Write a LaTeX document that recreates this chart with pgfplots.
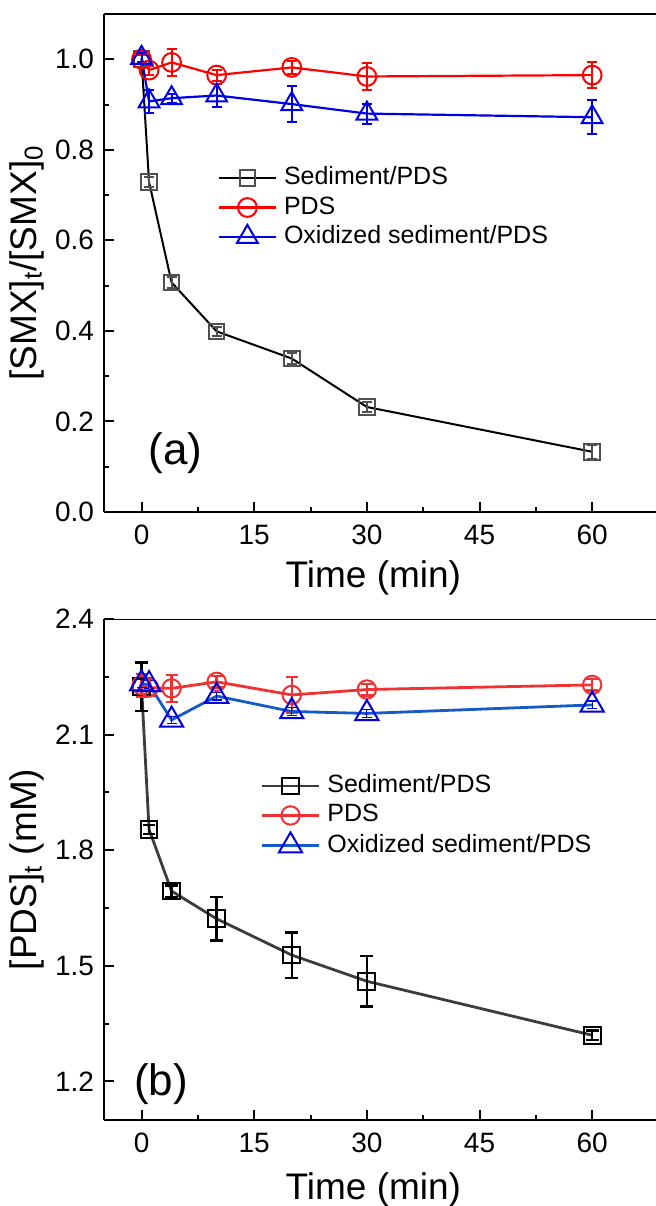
\documentclass[border=0pt]{standalone}
\usepackage{pgfplots}
\pgfplotsset{compat=1.18}
\usepackage{fontspec}
\setmainfont{Liberation Sans}

\definecolor{ared}{RGB}{255,0,0}
\definecolor{ablue}{RGB}{0,0,230}
\definecolor{agray}{RGB}{80,80,80}
\definecolor{bred}{RGB}{240,50,50}
\definecolor{bblue}{RGB}{20,90,200}
\definecolor{bmark}{RGB}{0,0,220}
\definecolor{bline}{RGB}{60,60,60}

\pgfplotstableread{
t v e
0 1.000 0.010
1 0.729 0.012
4 0.507 0.012
10 0.399 0.010
20 0.339 0.012
30 0.232 0.012
60 0.133 0.015
}\aSed
\pgfplotstableread{
t v e
0 1.000 0.010
1 0.976 0.010
4 0.993 0.030
10 0.965 0.012
20 0.982 0.015
30 0.962 0.030
60 0.965 0.028
}\aPDS
\pgfplotstableread{
t v e
0 1.003 0.010
1 0.907 0.025
4 0.914 0.010
10 0.920 0.026
20 0.901 0.040
30 0.880 0.022
60 0.872 0.038
}\aOx
\pgfplotstableread{
t v e
0 2.224 0.063
1 1.854 0.012
4 1.694 0.015
10 1.622 0.056
20 1.528 0.059
30 1.460 0.065
60 1.320 0.012
}\bSed
\pgfplotstableread{
t v e
0 2.228 0.030
1 2.222 0.020
4 2.220 0.035
10 2.237 0.015
20 2.203 0.047
30 2.217 0.015
60 2.229 0.015
}\bPDS
\pgfplotstableread{
t v e
0 2.232 0.010
1 2.230 0.010
4 2.138 0.010
10 2.200 0.010
20 2.160 0.010
30 2.155 0.010
60 2.177 0.010
}\bOx

\pgfplotsset{
  myaxis/.style={
    scale only axis, width=276pt,
    xmin=-5, xmax=68.5,
    axis lines=left, axis line style={-, line width=1pt},
    xtick={0,15,30,45,60}, minor xtick={7.5,22.5,37.5,52.5},
    tick align=inside,
    major tick length=5pt, minor tick length=2.5pt,
    every tick/.style={line width=1pt, black},
    /pgf/number format/assume math mode=true,
    tick label style={font=\fontsize{14}{16}\selectfont},
    xticklabel style={yshift=-3pt},
    yticklabel style={xshift=-1.5pt, /pgf/number format/.cd, fixed, fixed zerofill, precision=1},
    label style={font=\fontsize{18.5}{21}\selectfont},
    xlabel={Time (min)},
    legend cell align=left,
    legend style={draw=none, fill=none, font=\fontsize{12.5}{15}\selectfont,
      inner sep=0pt, row sep=2.2pt,
      nodes={inner sep=0pt, text height=9.5pt, text depth=3pt},
      /tikz/every odd column/.append style={column sep=3.5pt}},
    legend image code/.code={\draw[mark repeat=2,mark phase=2,##1] plot coordinates {(0pt,0pt) (14.25pt,0pt) (28.5pt,0pt)};},
  },
}

\begin{document}
\begin{tikzpicture}
\useasboundingbox (0,0) rectangle (328pt,603pt);
% panel (a)
\begin{axis}[myaxis, at={(52pt,347pt)}, anchor=south west, height=249pt,
  ymin=0, ymax=1.1, ytick={0,0.2,...,1.0}, minor ytick={0.1,0.3,...,0.9},
  ylabel={[SMX]\textsubscript{t}/[SMX]\textsubscript{0}},
  ylabel style={at={(axis description cs:-0.1395,0.5)}, anchor=center},
  xlabel style={at={(axis description cs:0.488,-0.1325)}, anchor=center},
  legend style={at={(axis cs:10.1,0.766)}, anchor=north west},
]
\addplot[black, line width=1pt, mark=square, mark size=3.9pt,
  mark options={draw=agray, fill=white, line width=1pt, solid},
  error bars/.cd, y dir=both, y explicit,
  error bar style={agray, line width=1pt},
  error mark options={rotate=90, mark size=2.5pt, agray, line width=1pt}]
  table[x=t, y=v, y error=e] {\aSed};
\addlegendentry{Sediment/PDS}
\addplot[ared, line width=1.1pt, mark=o, mark size=4.7pt,
  mark options={draw=ared, fill=white, line width=1pt, solid},
  error bars/.cd, y dir=both, y explicit,
  error bar style={ared, line width=1pt},
  error mark options={rotate=90, mark size=2.5pt, ared, line width=1pt}]
  table[x=t, y=v, y error=e] {\aPDS};
\addlegendentry{PDS}
\addplot[ablue, line width=1.1pt, mark=triangle, mark size=6pt,
  mark options={draw=ablue, fill=white, line width=1pt, solid},
  error bars/.cd, y dir=both, y explicit,
  error bar style={ablue, line width=1pt},
  error mark options={rotate=90, mark size=2.5pt, ablue, line width=1pt}]
  table[x=t, y=v, y error=e] {\aOx};
\addlegendentry{Oxidized sediment/PDS}
\draw[line width=1pt] (rel axis cs:0,1) -- (rel axis cs:1,1);
\node[font=\fontsize{22}{26}\selectfont] at (axis cs:4.5,0.13) {(a)};
\end{axis}
% panel (b)
\begin{axis}[myaxis, at={(52pt,43pt)}, anchor=south west, height=250.5pt,
  ymin=1.1, ymax=2.4, ytick={1.2,1.5,1.8,2.1,2.4}, minor ytick={1.35,1.65,1.95,2.25},
  ylabel={[PDS]\textsubscript{t} (mM)},
  ylabel style={at={(axis description cs:-0.1395,0.5)}, anchor=center},
  xlabel style={at={(axis description cs:0.488,-0.14)}, anchor=center},
  legend style={at={(axis cs:15.8,2.0)}, anchor=north west},
]
\addplot[bline, line width=1.4pt, mark=square, mark size=4.2pt,
  mark options={draw=black, fill=white, line width=1pt, solid},
  error bars/.cd, y dir=both, y explicit,
  error bar style={black, line width=1.2pt},
  error mark options={rotate=90, mark size=3.2pt, black, line width=1.2pt}]
  table[x=t, y=v, y error=e] {\bSed};
\addlegendentry{Sediment/PDS}
\addplot[bred, line width=1.4pt, mark=o, mark size=4.6pt,
  mark options={draw=bred, fill=white, line width=1pt, solid},
  error bars/.cd, y dir=both, y explicit,
  error bar style={bred, line width=1.2pt},
  error mark options={rotate=90, mark size=3pt, bred, line width=1.2pt}]
  table[x=t, y=v, y error=e] {\bPDS};
\addlegendentry{PDS}
\addplot[bblue, line width=1.4pt, mark=triangle, mark size=6.7pt,
  mark options={draw=bmark, fill=white, line width=1pt, solid},
  error bars/.cd, y dir=both, y explicit,
  error bar style={bmark, line width=0.6pt},
  error mark options={rotate=90, mark size=2.5pt, bmark, line width=0.6pt}]
  table[x=t, y=v, y error=e] {\bOx};
\addlegendentry{Oxidized sediment/PDS}
\draw[line width=1pt] (rel axis cs:0,1) -- (rel axis cs:1,1);
\node[font=\fontsize{22}{26}\selectfont] at (axis cs:2.6,1.193) {(b)};
\end{axis}
\end{tikzpicture}
\end{document}
